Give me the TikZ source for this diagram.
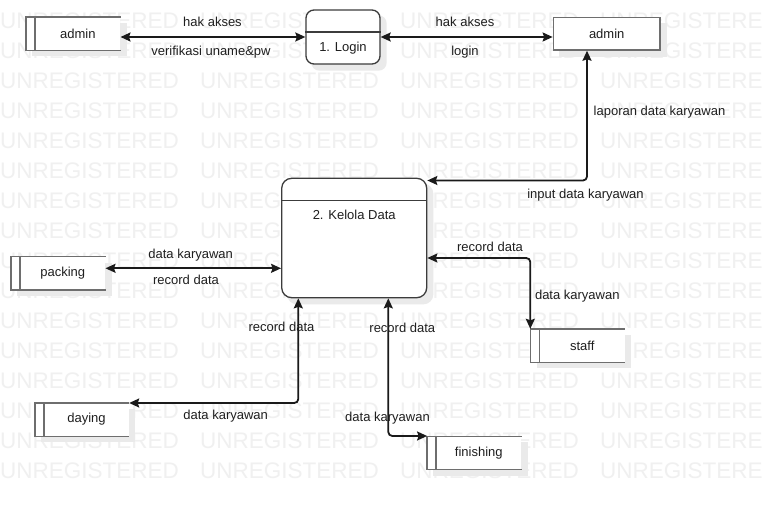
\documentclass[tikz,border=0pt]{standalone}
\usepackage{fontspec}
\setmainfont{Liberation Sans}
\usetikzlibrary{arrows.meta}
\definecolor{inkc}{HTML}{1F1F1F}
\definecolor{flowc}{HTML}{1A1A1A}
\definecolor{storec}{HTML}{6E6E6E}
\definecolor{procc}{HTML}{3C3C3C}
\definecolor{wmc}{HTML}{F0F0F0}
\definecolor{shadowc}{HTML}{EAEAEA}
\pgfdeclarelayer{wm}
\pgfdeclarelayer{shade}
\pgfsetlayers{wm,shade,main}

\begin{document}
\begin{tikzpicture}[x=1pt,y=-1pt,
  lbl/.style={text=inkc, font=\fontsize{13}{15}\selectfont, inner sep=0pt},
  wmtext/.style={text=wmc, font=\fontsize{22.5}{24}\selectfont, inner sep=0pt, anchor=base west},
  store/.style={lbl, fill=white, minimum height=33pt, minimum width=85pt},
  entity/.style={lbl, fill=white, draw=storec, line width=1.4pt, minimum height=32.7pt, minimum width=106.7pt},
  proc/.style={draw=procc, line width=1.3pt, fill=white, inner sep=0pt},
  storeline/.style={draw=storec, line width=1.4pt},
  divider/.style={draw=procc, line width=1.3pt},
  flow/.style={draw=flowc, line width=1.8pt, rounded corners=4pt,
    {Stealth[length=10pt,width=9pt,inset=1.5pt]}-{Stealth[length=10pt,width=9pt,inset=1.5pt]}},
]
\useasboundingbox (0,0) rectangle (764,506);

% background and repeated watermark text
\begin{pgfonlayer}{wm}
  \fill[white] (0,0) rectangle (764,506);
  \foreach \r in {0,...,15}
    \foreach \c in {0,...,3}
      \node[wmtext] (wm-\r-\c) at (200*\c, 28+30*\r) {UNREGISTERED};
\end{pgfonlayer}

% external entities (open-ended stores: node = text area right of the inner bar)
\node[store] (adminL)    at (77.8,33.7)  {admin};
\node[store] (packing)   at (62.8,273.3) {packing};
\node[store] (staff)     at (582.2,345.5) {staff};
\node[store] (daying)    at (86.5,419.5) {daying};
\node[store] (finishing) at (478.8,453)  {finishing};

\foreach \n in {adminL,packing,staff,daying,finishing}{
  \fill[white] ([xshift=-9pt]\n.north west) rectangle (\n.south west);
  \draw[storeline] (\n.north east) -- ([xshift=-9pt]\n.north west)
                   -- ([xshift=-9pt]\n.south west) -- (\n.south east);
  \draw[storeline] (\n.north west) -- (\n.south west);
  \begin{pgfonlayer}{shade}
    \fill[shadowc] ([xshift=-3pt,yshift=-6pt]\n.north west)
                   rectangle ([xshift=6pt,yshift=-6pt]\n.south east);
  \end{pgfonlayer}
}

% closed entity
\node[entity] (adminR) at (606.7,33.7) {admin};

% processes
\node[proc, rounded corners=8pt, minimum width=74pt, minimum height=54pt] (login) at (343,37) {};
\node[proc, rounded corners=10pt, minimum width=145pt, minimum height=119.4pt] (kelola) at (354.2,238) {};
\draw[divider] ([yshift=-22.5pt]login.north west) -- ([yshift=-22.5pt]login.north east);
\draw[divider] ([yshift=-22.7pt]kelola.north west) -- ([yshift=-22.7pt]kelola.north east);
\node[lbl] (loginT)  at (343,48)    {1. Login};
\node[lbl] (kelolaT) at (354.2,215) {2. Kelola Data};

\begin{pgfonlayer}{shade}
  \fill[shadowc] ([shift={(6pt,-6pt)}]adminR.north west) rectangle ([shift={(6pt,-6pt)}]adminR.south east);
  \fill[shadowc, rounded corners=8pt] ([shift={(6pt,-6pt)}]login.north west) rectangle ([shift={(6pt,-6pt)}]login.south east);
  \fill[shadowc, rounded corners=10pt] ([shift={(6pt,-6pt)}]kelola.north west) rectangle ([shift={(6pt,-6pt)}]kelola.south east);
\end{pgfonlayer}

% bend points of the data flows
\coordinate (b1) at (587,180.5);
\coordinate (b2) at (530.3,258);
\coordinate (b3) at (298.3,403);
\coordinate (b4) at (388.3,436);
\coordinate (pk) at ([yshift=5pt]packing.east);
\coordinate (finL) at ([xshift=-9pt]finishing.west);

% data flows
\draw[flow] (adminL.east |- login.west) -- (login.west);
\draw[flow] (login.east) -- (login.east -| adminR.west);
\draw[flow] (b1 -| kelola.east) -- (b1) -- (b1 |- adminR.south);
\draw[flow] (pk) -- (pk -| kelola.west);
\draw[flow] (b2 -| kelola.east) -- (b2) -- (b2 |- staff.north);
\draw[flow] (b3 |- kelola.south) -- (b3) -- (b3 -| daying.east);
\draw[flow] (b4 |- kelola.south) -- (b4) -- (b4 -| finL);

% flow labels
\node[lbl] (l1)  at (212.5,22)  {hak akses};
\node[lbl] (l2)  at (211,52)    {verifikasi uname\&pw};
\node[lbl] (l3)  at (465,21.7)  {hak akses};
\node[lbl] (l4)  at (465,51.7)  {login};
\node[lbl] (l5)  at (659.5,112) {laporan data karyawan};
\node[lbl] (l6)  at (585.5,195) {input data karyawan};
\node[lbl] (l7)  at (190.7,255) {data karyawan};
\node[lbl] (l8)  at (186,280)   {record data};
\node[lbl] (l9)  at (490,246.7) {record data};
\node[lbl] (l10) at (577.3,295.7) {data karyawan};
\node[lbl] (l11) at (281.5,326.5) {record data};
\node[lbl] (l12) at (402.3,327.7) {record data};
\node[lbl] (l13) at (225.7,416)   {data karyawan};
\node[lbl] (l14) at (387.5,418.3) {data karyawan};
\end{tikzpicture}
\end{document}
